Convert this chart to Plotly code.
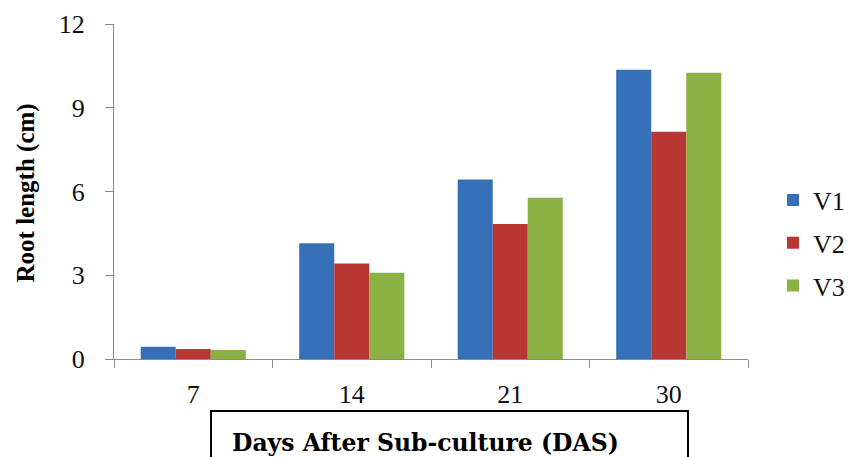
import plotly.graph_objects as go

categories = ["7", "14", "21", "30"]
v1 = [0.44, 4.15, 6.43, 10.36]
v2 = [0.36, 3.42, 4.84, 8.14]
v3 = [0.32, 3.09, 5.78, 10.25]
series_names = ["V1", "V2", "V3"]
colors = ["#3670B8", "#B93733", "#8BB043"]
y_ticks = [0, 3, 6, 9, 12]

W, H = 849, 457
L, R, T, B = 114, 101, 24, 98
pw, ph = W - L - R, H - T - B

def px_x(x):
    return (x - L) / pw

def px_y(y):
    return (H - B - y) / ph

fig = go.Figure()
for i, (name, vals) in enumerate(zip(series_names, [v1, v2, v3])):
    fig.add_trace(go.Bar(
        x=categories, y=vals, name=name,
        marker=dict(color=colors[i], line=dict(width=0)),
        legendgroup=name,
    ))

axis_col = "#8c8c8c"
serif = "Liberation Serif"
tick_font = dict(family=serif, size=26, color="#111111")

fig.update_layout(
    width=W, height=H,
    margin=dict(l=L, r=R, t=T, b=B, pad=0, autoexpand=False),
    paper_bgcolor="white", plot_bgcolor="white",
    barmode="group", bargap=0.337, bargroupgap=0,
    showlegend=True,
    legend=dict(
        x=px_x(773), xanchor="left",
        y=px_y(243), yanchor="middle",
        font=dict(family=serif, size=26, color="#111111"),
        traceorder="grouped", tracegroupgap=6,
        bgcolor="rgba(0,0,0,0)",
    ),
    xaxis=dict(
        type="category", categoryorder="array", categoryarray=categories,
        showline=True, linecolor=axis_col, linewidth=1,
        ticks="outside", ticklen=8, tickcolor=axis_col, tickwidth=1,
        tickson="boundaries", showgrid=False, zeroline=False,
        tickfont=tick_font, ticklabelstandoff=12,
    ),
    yaxis=dict(
        range=[0, 12], tickvals=y_ticks, ticktext=[str(t) for t in y_ticks],
        showline=True, linecolor=axis_col, linewidth=1,
        ticks="outside", ticklen=8, tickcolor=axis_col, tickwidth=1,
        showgrid=False, zeroline=False,
        tickfont=tick_font, ticklabelstandoff=15,
    ),
)

# Y-axis title
fig.add_annotation(
    text="<b>Root length (cm)</b>", xref="paper", yref="paper",
    x=px_x(25), y=px_y(193.5), xanchor="center", yanchor="middle",
    textangle=-90, showarrow=False,
    font=dict(family=serif, size=25, color="#000000"),
)

# X-axis title in a box
fig.add_shape(
    type="rect", xref="paper", yref="paper",
    x0=px_x(211), x1=px_x(688), y0=px_y(411), y1=px_y(480),
    line=dict(color="#000000", width=2), fillcolor="rgba(0,0,0,0)",
)
fig.add_annotation(
    text="<b>Days After Sub-culture (DAS)</b>", xref="paper", yref="paper",
    x=px_x(425.5), y=px_y(443), xanchor="center", yanchor="middle",
    showarrow=False,
    font=dict(family="DejaVu Serif", size=23.5, color="#000000"),
)

fig.write_html("out.html")
